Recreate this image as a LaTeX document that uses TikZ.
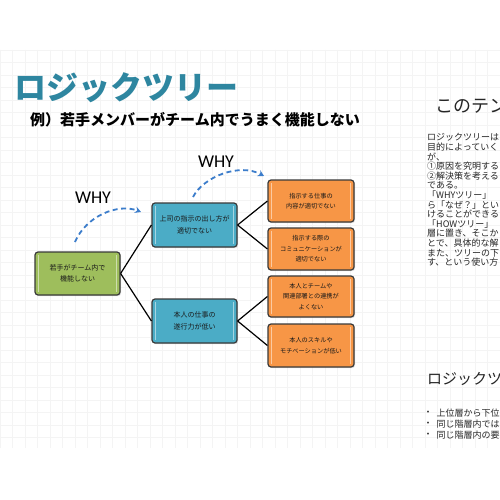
\documentclass[tikz,border=0pt]{standalone}
\usepackage{fontspec}
\setmainfont{Carlito}
\newfontfamily\jp{Noto Sans CJK JP}
\usetikzlibrary{shadows,arrows.meta}
\definecolor{titleteal}{HTML}{2E86A0}
\definecolor{boxgreen}{HTML}{9EBE5C}
\definecolor{boxblue}{HTML}{4BACC6}
\definecolor{boxorange}{HTML}{F79646}
\definecolor{whyblue}{HTML}{3C7DCB}
\definecolor{bordergray}{HTML}{3A3A3A}
\begin{document}
\begin{tikzpicture}[x=1pt,y=-1pt,
  gridline/.style={draw=black!4.5, line width=0.4pt},
  treebox/.style={rectangle, rounded corners=3pt, draw=bordergray, line width=1.2pt,
    minimum width=85pt, inner sep=1pt, align=center, text=black!90,
    drop shadow={opacity=0.25,shadow xshift=1pt,shadow yshift=-1.2pt},
    path picture={
      \draw[white,opacity=0.5,line width=1.3pt]
        ([xshift=3.5pt,yshift=-3pt]path picture bounding box.north west) --
        ([xshift=3.5pt,yshift=3pt]path picture bounding box.south west);
      \draw[white,opacity=0.5,line width=1.3pt]
        ([xshift=-3.5pt,yshift=-3pt]path picture bounding box.north east) --
        ([xshift=-3.5pt,yshift=3pt]path picture bounding box.south east);
    }},
  greenbox/.style={treebox, fill=boxgreen, minimum height=43pt, font=\jp\fontsize{7}{11}\selectfont},
  bluebox/.style={treebox, fill=boxblue, minimum height=44pt, font=\jp\fontsize{7}{12}\selectfont},
  orangebox/.style={treebox, fill=boxorange, minimum width=86pt, minimum height=42pt, font=\jp\fontsize{6.2}{10.5}\selectfont},
  connector/.style={draw=black, line width=1.2pt},
  whytext/.style={font=\fontsize{18}{18}\selectfont, inner sep=0pt},
  whyarrow/.style={draw=whyblue, line width=1.8pt, dash pattern=on 5pt off 3.5pt, -{Stealth[length=6pt,width=6.5pt]}},
  sidetext/.style={anchor=west, inner sep=0pt, text=black!85}
]
\useasboundingbox (0,0) rectangle (500,500);
\fill[white] (0,0) rectangle (500,500);
% grid background
\foreach \gx in {0,12.5,...,500} \draw[gridline] (\gx,50) -- (\gx,448);
\foreach \gy in {50,62.5,...,448} \draw[gridline] (0,\gy) -- (500,\gy);

% title
\node[anchor=west, inner sep=0pt, text=titleteal, font=\jp\bfseries\fontsize{32}{32}\selectfont] (title) at (14,88) {ロジックツリー};
\node[anchor=west, inner sep=0pt, font=\jp\bfseries\fontsize{15}{15}\selectfont] (subtitle) at (30,120) {例）若手メンバーがチーム内でうまく機能しない};

% tree
\node[greenbox] (g) at (77.5,273.5) {若手がチーム内で\\機能しない};
\node[bluebox] (b1) at (194.5,225) {上司の指示の出し方が\\適切でない};
\node[bluebox] (b2) at (194.5,321) {本人の仕事の\\遂行力が低い};
\node[orangebox] (o1) at (311,201) {指示する仕事の\\内容が適切でない};
\node[orangebox] (o2) at (311,249) {指示する際の\\コミュニケーションが\\適切でない};
\node[orangebox, minimum height=41pt] (o3) at (311,296.5) {本人とチームや\\関連部署との連携が\\よくない};
\node[orangebox, minimum height=43pt] (o4) at (311,345.5) {本人のスキルや\\モチベーションが低い};

\draw[connector] (g.east) -- (b1.west);
\draw[connector] (g.east) -- (b2.west);
\draw[connector] (b1.east) -- (o1.west);
\draw[connector] (b1.east) -- (o2.west);
\draw[connector] (b2.east) -- (o3.west);
\draw[connector] (b2.east) -- (o4.west);

% WHY labels and arrows
\node[whytext] (why1) at (93,198) {WHY};
\node[whytext] (why2) at (216,162) {WHY};
\coordinate (a1s) at (75,242);
\coordinate (a1e) at (141,212);
\coordinate (a2s) at (193,197);
\coordinate (a2e) at (264,176);
\draw[whyarrow] (a1s) .. controls (86,216) and (118,203) .. (a1e);
\draw[whyarrow] (a2s) .. controls (204,176) and (240,163) .. (a2e);

% right panel (cut off at the page edge, as in the reference)
\begin{scope}
\clip (0,0) rectangle (500,500);
\node[sidetext, font=\jp\fontsize{18}{18}\selectfont] (head1) at (435,106) {このテン};
\node[sidetext, anchor=north west, align=left, font=\jp\fontsize{9}{9.6}\selectfont] (body) at (427,133.5)
  {ロジックツリーは\\目的によっていく\\が、\\①原因を究明する\\②解決策を考える\\である。\\「WHYツリー」\\ら「なぜ？」とい\\けることができる\\「HOWツリー」\\層に置き、そこか\\とで、具体的な解\\また、ツリーの下\\す、という使い方};
\node[sidetext, font=\jp\fontsize{15}{15}\selectfont] (head2) at (427,379) {ロジックツ};
\node[sidetext, font=\jp\fontsize{9}{9}\selectfont] (bul1) at (423.5,413) {・};
\node[sidetext, font=\jp\fontsize{9}{9}\selectfont] (bul2) at (423.5,424) {・};
\node[sidetext, font=\jp\fontsize{9}{9}\selectfont] (bul3) at (423.5,435) {・};
\node[sidetext, font=\jp\fontsize{9}{9}\selectfont] (li1) at (436.5,413) {上位層から下位};
\node[sidetext, font=\jp\fontsize{9}{9}\selectfont] (li2) at (436.5,424) {同じ階層内では};
\node[sidetext, font=\jp\fontsize{9}{9}\selectfont] (li3) at (436.5,435) {同じ階層内の要};
\end{scope}
\end{tikzpicture}
\end{document}
